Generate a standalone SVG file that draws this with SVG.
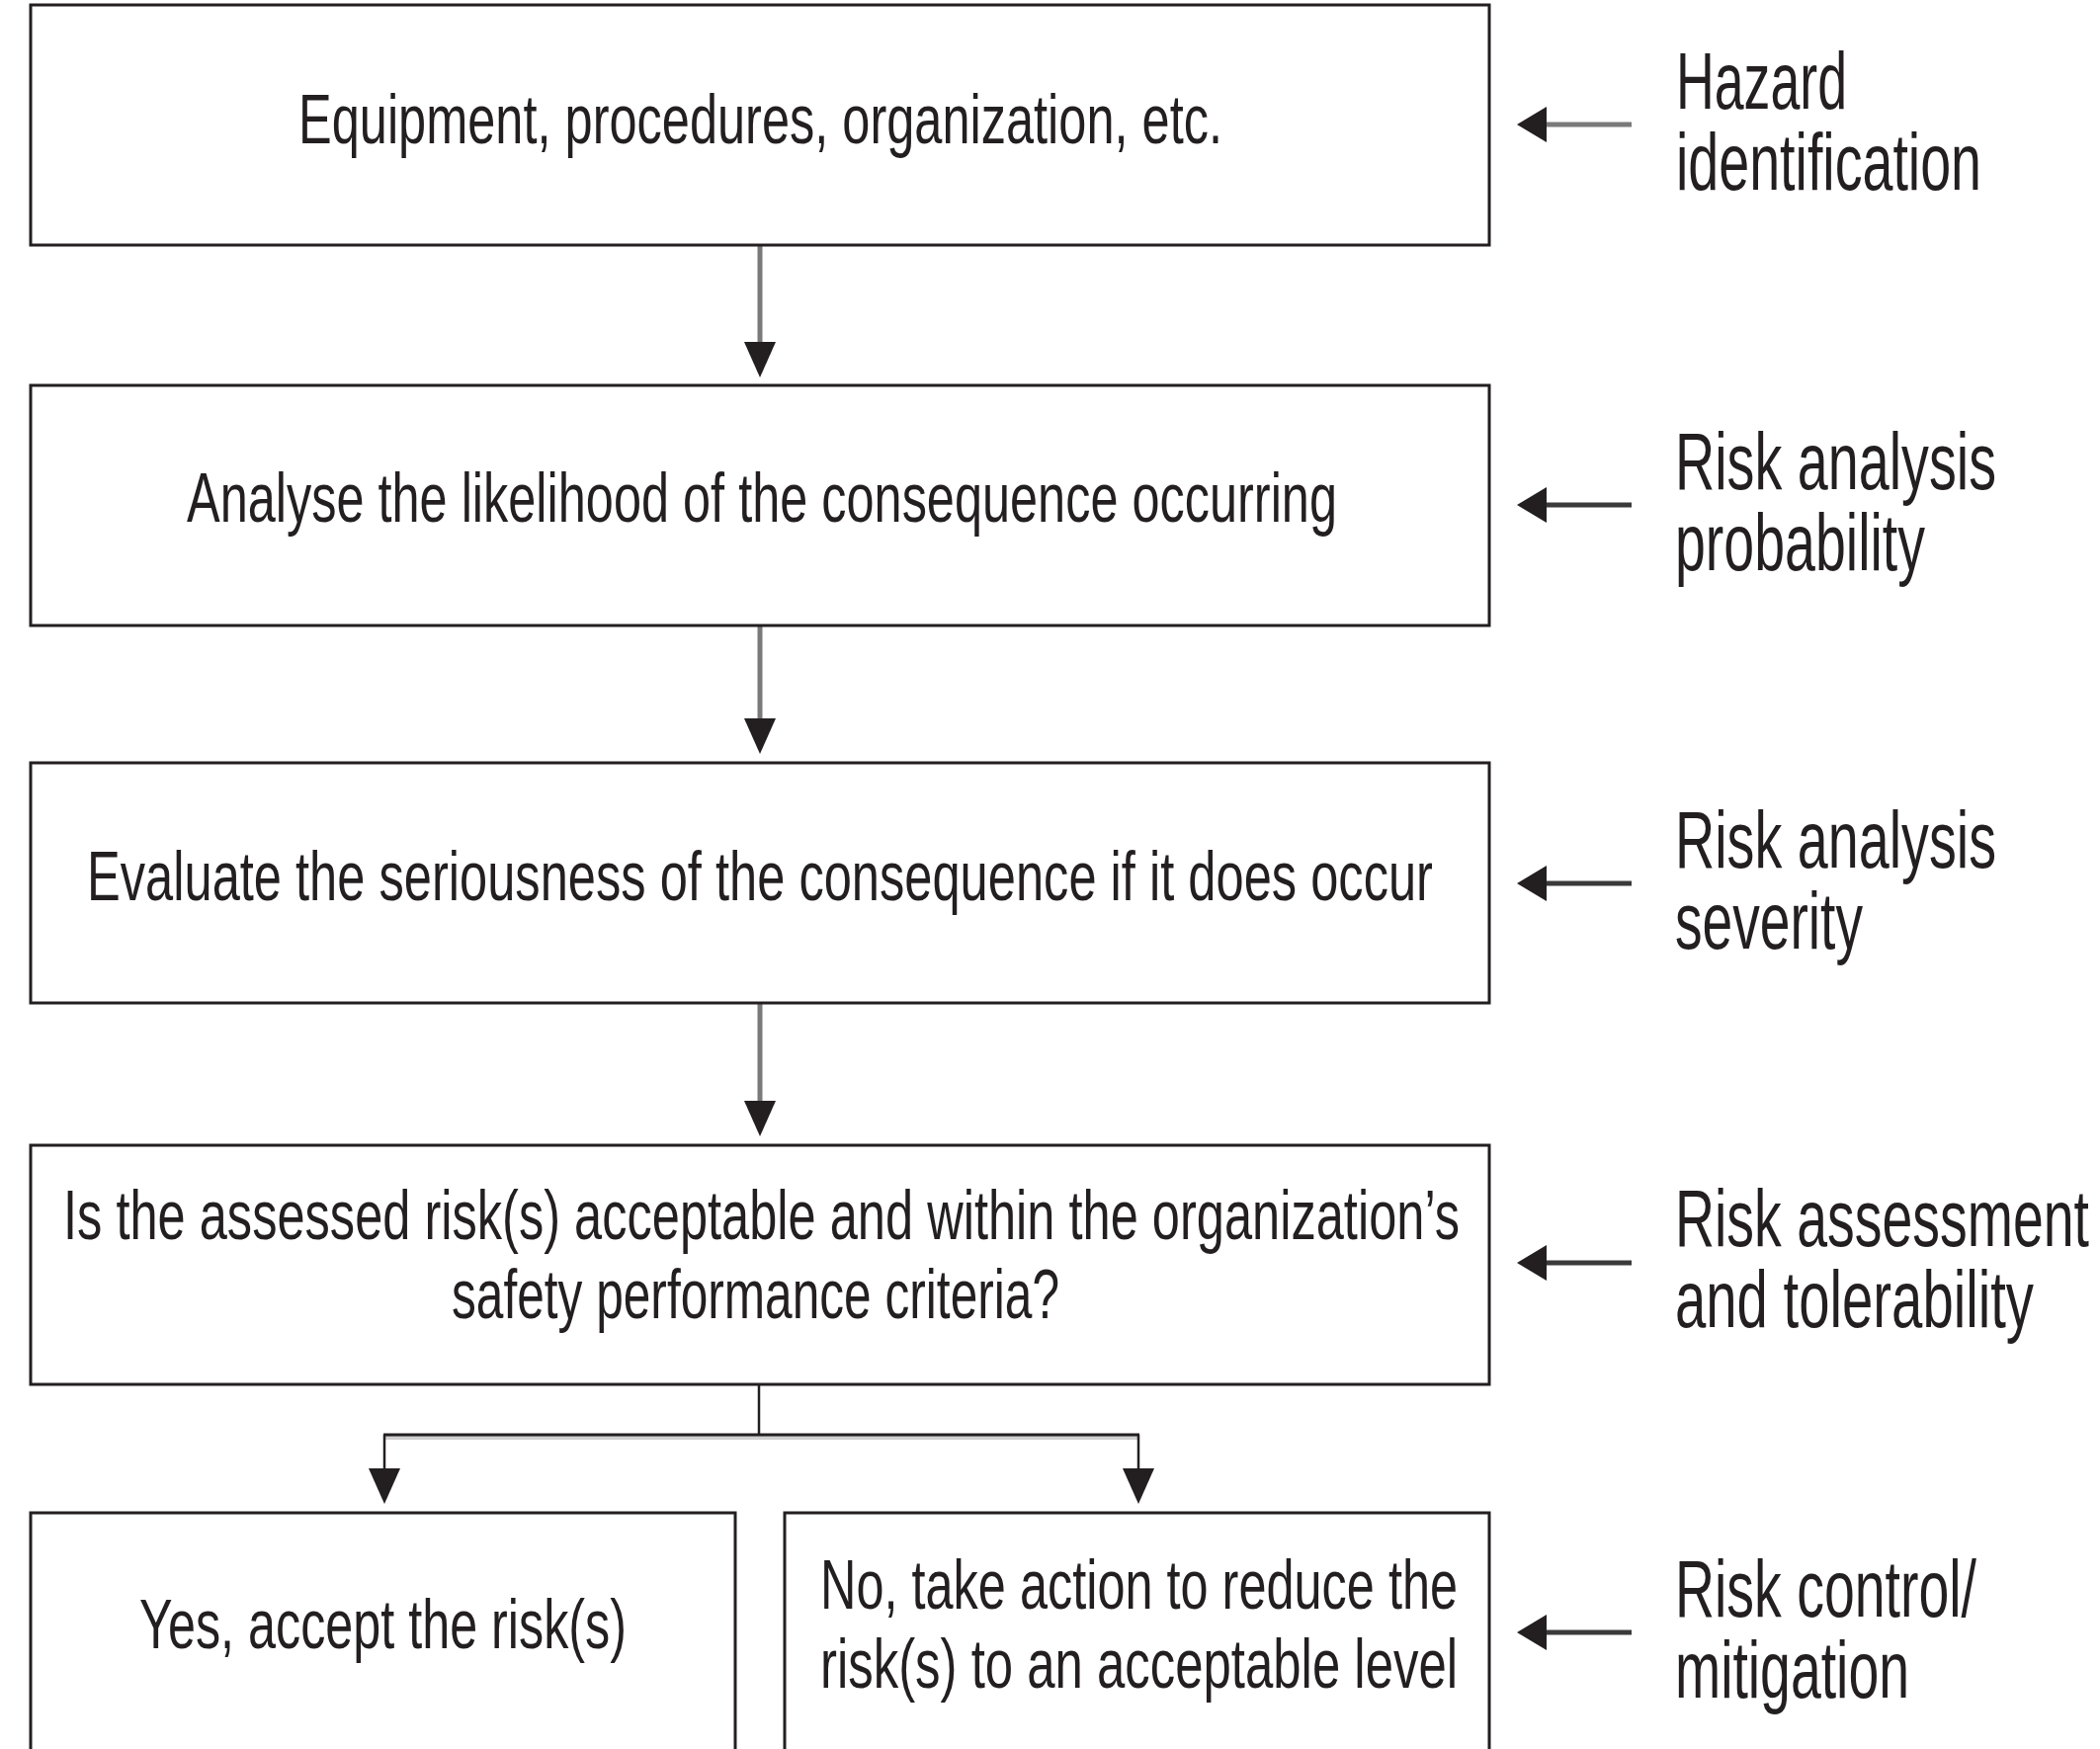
<svg xmlns="http://www.w3.org/2000/svg" width="2125" height="1770" viewBox="0 0 2125 1770">
<style>
.box{fill:#fff;stroke:#231f20;stroke-width:3}
.t{font-family:"Liberation Sans",Arial,sans-serif;font-size:70px;fill:#231f20}
.s{font-family:"Liberation Sans",Arial,sans-serif;font-size:81px;fill:#231f20}
.vl{stroke:#7a7a7a;stroke-width:5;fill:none}
.sl{stroke:#3a3a3a;stroke-width:5;fill:none}
.thin{stroke:#231f20;stroke-width:2.5;fill:none}
.head{fill:#231f20}
</style>
<rect width="2125" height="1770" fill="#fff"/>
<g id="connectors">
  <line class="vl" x1="769" y1="249" x2="769" y2="350"/>
  <polygon class="head" points="753,346 785,346 769,382"/>
  <line class="vl" x1="769" y1="634" x2="769" y2="731"/>
  <polygon class="head" points="753,727 785,727 769,763"/>
  <line class="vl" x1="769" y1="1016" x2="769" y2="1118"/>
  <polygon class="head" points="753,1114 785,1114 769,1150"/>
  <line class="thin" x1="768" y1="1402" x2="768" y2="1452"/>
  <line x1="389" y1="1455" x2="1152" y2="1455" stroke="#cfcfcf" stroke-width="4"/>
  <line x1="388" y1="1452" x2="1153" y2="1452" stroke="#231f20" stroke-width="3"/>
  <line class="thin" x1="389" y1="1452" x2="389" y2="1490"/>
  <polygon class="head" points="373,1486 405,1486 389,1522"/>
  <line class="thin" x1="1152" y1="1452" x2="1152" y2="1490"/>
  <polygon class="head" points="1136,1486 1168,1486 1152,1522"/>
  <line class="vl" x1="1560" y1="126" x2="1651" y2="126"/>
  <polygon class="head" points="1535,126 1565,108 1565,144"/>
  <line class="sl" x1="1560" y1="511" x2="1651" y2="511"/>
  <polygon class="head" points="1535,511 1565,493 1565,529"/>
  <line class="sl" x1="1560" y1="894" x2="1651" y2="894"/>
  <polygon class="head" points="1535,894 1565,876 1565,912"/>
  <line class="sl" x1="1560" y1="1278" x2="1651" y2="1278"/>
  <polygon class="head" points="1535,1278 1565,1260 1565,1296"/>
  <line class="sl" x1="1560" y1="1652" x2="1651" y2="1652"/>
  <polygon class="head" points="1535,1652 1565,1634 1565,1670"/>
</g>
<g id="node-equipment">
  <rect class="box" x="31" y="5" width="1476" height="243"/>
  <text class="t" transform="translate(302,145) scale(0.66,1)" textLength="1416.7" lengthAdjust="spacingAndGlyphs">Equipment, procedures, organization, etc.</text>
</g>
<g id="node-likelihood">
  <rect class="box" x="31" y="390" width="1476" height="243"/>
  <text class="t" transform="translate(189,528) scale(0.66,1)" textLength="1763.6" lengthAdjust="spacingAndGlyphs">Analyse the likelihood of the consequence occurring</text>
</g>
<g id="node-seriousness">
  <rect class="box" x="31" y="772" width="1476" height="243"/>
  <text class="t" transform="translate(88,911) scale(0.66,1)" textLength="2063.6" lengthAdjust="spacingAndGlyphs">Evaluate the seriousness of the consequence if it does occur</text>
</g>
<g id="node-acceptable">
  <rect class="box" x="31" y="1159" width="1476" height="242"/>
  <text class="t" transform="translate(64,1254) scale(0.66,1)" textLength="2140.9" lengthAdjust="spacingAndGlyphs">Is the assessed risk(s) acceptable and within the organization’s</text>
  <text class="t" transform="translate(457,1334) scale(0.66,1)" textLength="931.8" lengthAdjust="spacingAndGlyphs">safety performance criteria?</text>
</g>
<g id="node-yes">
  <rect class="box" x="31" y="1531" width="713" height="300"/>
  <text class="t" transform="translate(141,1668) scale(0.66,1)" textLength="747" lengthAdjust="spacingAndGlyphs">Yes, accept the risk(s)</text>
</g>
<g id="node-no">
  <rect class="box" x="794" y="1531" width="713" height="300"/>
  <text class="t" transform="translate(830,1628) scale(0.66,1)" textLength="977.3" lengthAdjust="spacingAndGlyphs">No, take action to reduce the</text>
  <text class="t" transform="translate(830,1708) scale(0.66,1)" textLength="977.3" lengthAdjust="spacingAndGlyphs">risk(s) to an acceptable level</text>
</g>
<g id="label-hazard">
  <text class="s" transform="translate(1696,110) scale(0.66,1)" textLength="262.1" lengthAdjust="spacingAndGlyphs">Hazard</text>
  <text class="s" transform="translate(1696,192) scale(0.66,1)" textLength="468.2" lengthAdjust="spacingAndGlyphs">identification</text>
</g>
<g id="label-probability">
  <text class="s" transform="translate(1695,495) scale(0.66,1)" textLength="492.4" lengthAdjust="spacingAndGlyphs">Risk analysis</text>
  <text class="s" transform="translate(1695,577) scale(0.66,1)" textLength="383.3" lengthAdjust="spacingAndGlyphs">probability</text>
</g>
<g id="label-severity">
  <text class="s" transform="translate(1695,878) scale(0.66,1)" textLength="492.4" lengthAdjust="spacingAndGlyphs">Risk analysis</text>
  <text class="s" transform="translate(1695,960) scale(0.66,1)" textLength="287.9" lengthAdjust="spacingAndGlyphs">severity</text>
</g>
<g id="label-tolerability">
  <text class="s" transform="translate(1695,1261) scale(0.66,1)" textLength="634.8" lengthAdjust="spacingAndGlyphs">Risk assessment</text>
  <text class="s" transform="translate(1695,1343) scale(0.66,1)" textLength="550" lengthAdjust="spacingAndGlyphs">and tolerability</text>
</g>
<g id="label-mitigation">
  <text class="s" transform="translate(1695,1636) scale(0.66,1)" textLength="462.1" lengthAdjust="spacingAndGlyphs">Risk control/</text>
  <text class="s" transform="translate(1695,1718) scale(0.66,1)" textLength="359.1" lengthAdjust="spacingAndGlyphs">mitigation</text>
</g>
</svg>
